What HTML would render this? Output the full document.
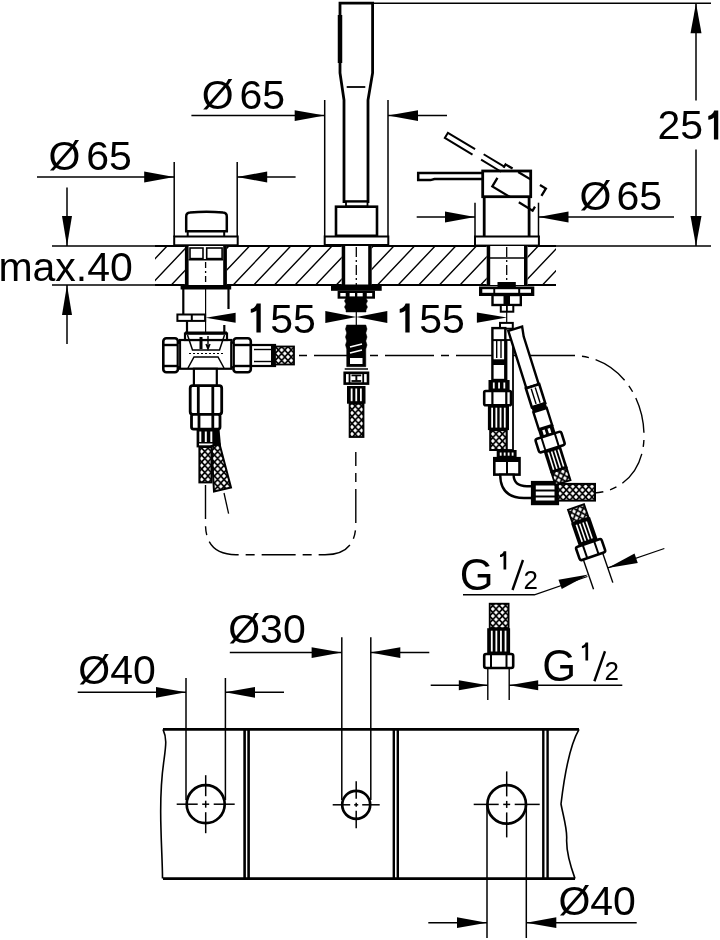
<!DOCTYPE html>
<html><head><meta charset="utf-8"><style>
html,body{margin:0;padding:0;background:#fff;}
svg{display:block;will-change:transform;}
text{font-family:"Liberation Sans",sans-serif;fill:#000;stroke:none;}
</style></head><body>
<svg width="720" height="940" viewBox="0 0 720 940" stroke="#000" fill="none" stroke-linecap="butt">
<rect width="720" height="940" fill="#fff" stroke="none"/>
<defs>
<pattern id="braid" width="6.4" height="7" patternUnits="userSpaceOnUse" stroke="none">
<rect width="6.4" height="7" fill="#000"/>
<polygon points="3.2,1.25 5.25,3.5 3.2,5.75 1.1500000000000004,3.5" fill="#fff"/>
<polygon points="0,-2.25 2.05,0 0,2.25 -2.05,0" fill="#fff"/>
<polygon points="6.4,-2.25 8.45,0 6.4,2.25 4.3500000000000005,0" fill="#fff"/>
<polygon points="0,4.75 2.05,7 0,9.25 -2.05,7" fill="#fff"/>
<polygon points="6.4,4.75 8.45,7 6.4,9.25 4.3500000000000005,7" fill="#fff"/>
</pattern>
<clipPath id="deckclip"><rect x="155" y="246" width="401" height="39"/></clipPath>
</defs>
<line x1="373.00" y1="3.20" x2="711.00" y2="3.20" stroke-width="1.5" />
<line x1="52.00" y1="246.00" x2="711.00" y2="246.00" stroke-width="1.5" />
<line x1="696.00" y1="3.20" x2="696.00" y2="100.50" stroke-width="1.5" />
<line x1="696.00" y1="149.40" x2="696.00" y2="246.00" stroke-width="1.5" />
<polygon points="696.00,3.20 701.50,33.20 690.50,33.20" fill="#000" stroke="none"/>
<polygon points="696.00,246.00 690.50,216.00 701.50,216.00" fill="#000" stroke="none"/>
<text x="657.5" y="139.4" font-size="41" >25</text>
<path d="M708.30,116.07 C711.18,115.50 713.34,113.48 714.20,110.60 L718.24,110.60 L718.24,139.40 L713.92,139.40 L713.92,117.51 C712.19,118.95 711.18,119.53 708.30,119.82 Z" fill="#000" stroke="none"/>
<line x1="191.40" y1="115.60" x2="324.70" y2="115.60" stroke-width="1.5" />
<polygon points="324.70,115.60 294.70,121.00 294.70,110.20" fill="#000" stroke="none"/>
<line x1="388.00" y1="115.60" x2="447.00" y2="115.60" stroke-width="1.5" />
<polygon points="388.00,115.60 418.00,110.20 418.00,121.00" fill="#000" stroke="none"/>
<line x1="324.70" y1="100.00" x2="324.70" y2="236.00" stroke-width="1.5" />
<line x1="388.00" y1="100.00" x2="388.00" y2="236.00" stroke-width="1.5" />
<text x="201.7" y="109.4" font-size="41" >Ø</text>
<text x="239.5" y="109.4" font-size="41" >65</text>
<line x1="37.00" y1="177.00" x2="174.20" y2="177.00" stroke-width="1.5" />
<polygon points="174.20,177.00 144.20,182.40 144.20,171.60" fill="#000" stroke="none"/>
<line x1="237.20" y1="177.00" x2="295.60" y2="177.00" stroke-width="1.5" />
<polygon points="237.20,177.00 267.20,171.60 267.20,182.40" fill="#000" stroke="none"/>
<line x1="174.20" y1="162.00" x2="174.20" y2="237.00" stroke-width="1.5" />
<line x1="237.20" y1="162.00" x2="237.20" y2="237.00" stroke-width="1.5" />
<text x="48.4" y="169.5" font-size="41" >Ø</text>
<text x="86.2" y="169.5" font-size="41" >65</text>
<line x1="416.70" y1="217.00" x2="475.00" y2="217.00" stroke-width="1.5" />
<polygon points="475.00,217.00 445.00,222.40 445.00,211.60" fill="#000" stroke="none"/>
<line x1="538.50" y1="217.00" x2="674.00" y2="217.00" stroke-width="1.5" />
<polygon points="538.50,217.00 568.50,211.60 568.50,222.40" fill="#000" stroke="none"/>
<line x1="475.00" y1="202.70" x2="475.00" y2="237.00" stroke-width="1.5" />
<line x1="538.50" y1="202.70" x2="538.50" y2="237.00" stroke-width="1.5" />
<text x="579.4" y="209.5" font-size="41" >Ø</text>
<text x="616.5" y="209.5" font-size="41" >65</text>
<line x1="52.00" y1="285.00" x2="556.00" y2="285.00" stroke-width="1.5" />
<line x1="67.00" y1="187.50" x2="67.00" y2="246.00" stroke-width="1.5" />
<polygon points="67.00,246.00 62.00,216.00 72.00,216.00" fill="#000" stroke="none"/>
<line x1="67.00" y1="285.00" x2="67.00" y2="344.00" stroke-width="1.5" />
<polygon points="67.00,285.00 72.00,315.00 62.00,315.00" fill="#000" stroke="none"/>
<text x="-1.6" y="281" font-size="41" >max.40</text>
<path d="M-34.88,285 L2.12,246 M-14.26,285 L22.74,246 M6.36,285 L43.36,246 M26.98,285 L63.98,246 M47.60,285 L84.60,246 M68.22,285 L105.22,246 M88.84,285 L125.84,246 M109.46,285 L146.46,246 M130.08,285 L167.08,246 M150.70,285 L187.70,246 M171.32,285 L208.32,246 M191.94,285 L228.94,246 M212.56,285 L249.56,246 M233.18,285 L270.18,246 M253.80,285 L290.80,246 M274.42,285 L311.42,246 M295.04,285 L332.04,246 M315.66,285 L352.66,246 M336.28,285 L373.28,246 M356.90,285 L393.90,246 M377.52,285 L414.52,246 M398.14,285 L435.14,246 M418.76,285 L455.76,246 M439.38,285 L476.38,246 M460.00,285 L497.00,246 M480.62,285 L517.62,246 M501.24,285 L538.24,246 M521.86,285 L558.86,246 M542.48,285 L579.48,246 M563.10,285 L600.10,246 M583.72,285 L620.72,246 M604.34,285 L641.34,246" stroke-width="1.4" clip-path="url(#deckclip)"/>
<line x1="155.00" y1="246.00" x2="556.00" y2="246.00" stroke-width="2.2" />
<line x1="155.00" y1="285.00" x2="556.00" y2="285.00" stroke-width="2.2" />
<path d="M294,355.5 L572,355.5" stroke-width="1.4" fill="none" stroke-dasharray="49 7 8 7" stroke-dashoffset="-20"/>
<path d="M572,355.5 C614,355.5 644,392 644,436 C644,472 620,492 594,493" stroke-width="1.4" fill="none" stroke-dasharray="36 7 7 7" stroke-dashoffset="-24"/>
<path d="M205.5,485 L205.5,524 Q205.5,554.7 236,554.7 L325,554.7 Q355.8,554.7 355.8,524 L355.8,452" stroke-width="1.4" fill="none" stroke-dasharray="34 7 9 7"/>
<line x1="224.00" y1="493.00" x2="228.60" y2="513.60" stroke-width="1.3" />
<path d="M186.2,231.2 L186.2,216.5 Q186.2,212.8 190,212.6 Q206.5,210.8 223,212.6 Q226.8,212.8 226.8,216.5 L226.8,231.2 Z" stroke-width="2.5" fill="#fff" />
<line x1="187.70" y1="231.80" x2="187.70" y2="236.00" stroke-width="2" />
<line x1="224.20" y1="231.80" x2="224.20" y2="236.00" stroke-width="2" />
<rect x="174.20" y="236.50" width="63.50" height="8.80" stroke-width="2" fill="#fff" rx="0" />
<rect x="184.90" y="246.00" width="42.00" height="39.00" fill="#fff" stroke="none"/>
<rect x="184.90" y="246.00" width="3.70" height="39.00" fill="#000" stroke="none"/>
<rect x="223.20" y="246.00" width="3.70" height="39.00" fill="#000" stroke="none"/>
<rect x="190.00" y="248.00" width="13.00" height="10.60" stroke-width="1.6" fill="#fff" rx="0" />
<rect x="206.70" y="248.00" width="15.40" height="10.60" stroke-width="1.6" fill="#fff" rx="0" />
<line x1="188.60" y1="259.70" x2="223.20" y2="259.70" stroke-width="1.6" />
<line x1="205.60" y1="262.00" x2="205.60" y2="285.00" stroke-width="1.3" stroke-dasharray="6 3 2 3"/>
<rect x="180.60" y="285.00" width="50.60" height="4.50" fill="#000" stroke="none"/>
<line x1="183.30" y1="289.00" x2="183.30" y2="314.50" stroke-width="2.2" />
<line x1="228.50" y1="289.00" x2="228.50" y2="309.00" stroke-width="2.2" />
<line x1="205.60" y1="289.00" x2="205.60" y2="332.00" stroke-width="1.2" />
<rect x="177.40" y="314.50" width="27.70" height="6.40" stroke-width="2" fill="#fff" rx="0" />
<rect x="190.80" y="315.00" width="2.00" height="5.50" fill="#000" stroke="none"/>
<polygon points="205.60,317.70 235.60,312.70 235.60,322.70" fill="#000" stroke="none"/>
<path d="M250.80,309.07 C253.68,308.50 255.84,306.48 256.70,303.60 L260.74,303.60 L260.74,332.40 L256.42,332.40 L256.42,310.51 C254.69,311.95 253.68,312.53 250.80,312.82 Z" fill="#000" stroke="none"/>
<text x="270.3" y="332.5" font-size="41" >55</text>
<path d="M399.70,309.07 C402.58,308.50 404.74,306.48 405.60,303.60 L409.64,303.60 L409.64,332.40 L405.32,332.40 L405.32,310.51 C403.59,311.95 402.58,312.53 399.70,312.82 Z" fill="#000" stroke="none"/>
<text x="419.2" y="332.5" font-size="41" >55</text>
<line x1="187.00" y1="320.90" x2="187.00" y2="332.50" stroke-width="2.2" />
<line x1="224.30" y1="325.00" x2="224.30" y2="332.50" stroke-width="2.2" />
<rect x="180.00" y="340.00" width="51.40" height="28.75" stroke-width="2.2" fill="#fff" rx="0" />
<rect x="185.00" y="333.50" width="42.00" height="6.50" stroke-width="2.2" fill="#fff" rx="0" />
<line x1="185.00" y1="333.00" x2="227.00" y2="333.00" stroke-width="2.8" />
<path d="M187.5,335 L192.5,350 L219.5,350 L224.5,335" stroke-width="1.5" fill="none" />
<path d="M188,368 L194,357 L218,357 L224,368" stroke-width="1.5" fill="none" />
<line x1="189.00" y1="353.50" x2="223.00" y2="353.50" stroke-width="1.2" stroke-dasharray="2 2"/>
<rect x="199.50" y="337.00" width="3.00" height="12.00" fill="#000" stroke="none"/>
<path d="M208,336 L208,349 M206,344 L208,349 L210,344" stroke-width="1.4" fill="none" />
<rect x="163.30" y="338.20" width="14.60" height="34.00" stroke-width="2.6" fill="#fff" rx="3" />
<line x1="164.00" y1="345.00" x2="177.00" y2="345.00" stroke-width="2.4" />
<line x1="164.00" y1="366.00" x2="177.00" y2="366.00" stroke-width="2.4" />
<rect x="177.90" y="343.00" width="2.10" height="24.00" stroke-width="1.8" fill="#fff" rx="0" />
<rect x="233.50" y="338.20" width="17.30" height="34.00" stroke-width="2.6" fill="#fff" rx="3" />
<line x1="234.00" y1="345.00" x2="250.00" y2="345.00" stroke-width="2.4" />
<line x1="234.00" y1="366.00" x2="250.00" y2="366.00" stroke-width="2.4" />
<rect x="231.40" y="343.00" width="2.10" height="24.00" stroke-width="1.8" fill="#fff" rx="0" />
<rect x="251.00" y="345.00" width="24.00" height="21.00" stroke-width="2.2" fill="#fff" rx="0" />
<line x1="254.00" y1="349.50" x2="272.00" y2="349.50" stroke-width="1.4" />
<line x1="254.00" y1="361.50" x2="272.00" y2="361.50" stroke-width="1.4" />
<rect x="271.00" y="345.00" width="4.00" height="21.00" fill="#000" stroke="none"/>
<rect x="275.00" y="346.50" width="19.00" height="18.00" fill="url(#braid)" stroke-width="1.8"/>
<rect x="193.90" y="368.75" width="22.90" height="17.25" stroke-width="2.2" fill="#fff" rx="0" />
<rect x="190.20" y="385.70" width="31.50" height="28.60" stroke-width="2.8" fill="#fff" rx="2.5" />
<line x1="198.30" y1="386.00" x2="198.30" y2="414.00" stroke-width="2.8" />
<line x1="212.80" y1="386.00" x2="212.80" y2="414.00" stroke-width="2.8" />
<rect x="191.50" y="414.30" width="28.50" height="14.80" stroke-width="2.8" fill="#fff" rx="2" />
<line x1="199.00" y1="414.30" x2="199.00" y2="429.00" stroke-width="2.8" />
<line x1="212.80" y1="414.30" x2="212.80" y2="429.00" stroke-width="2.8" />
<rect x="196.60" y="429.00" width="18.40" height="18.40" fill="#000" stroke="none"/>
<polygon points="212,429 219.5,429 221,446 212,447.4" fill="#000" stroke="none"/>
<rect x="199.30" y="431.50" width="2.00" height="10.50" fill="#fff" stroke="none"/>
<rect x="204.80" y="431.50" width="2.00" height="10.50" fill="#fff" stroke="none"/>
<rect x="210.30" y="431.50" width="2.00" height="10.50" fill="#fff" stroke="none"/>
<rect x="199.00" y="443.50" width="13.50" height="1.80" fill="#fff" stroke="none"/>
<polygon points="211.5,446 219.5,444 231,487.5 214,491.5" fill="url(#braid)" stroke-width="2"/>
<rect x="199.40" y="447.00" width="12.10" height="35.40" fill="url(#braid)" stroke-width="2"/>
<path d="M340,3.1 L372.6,3.1 L372.6,73 L368,100 L368,201.7 L344,201.7 L344,100 L340,73 Z" stroke-width="2.8" fill="#fff" />
<line x1="340.00" y1="15.00" x2="340.00" y2="63.00" stroke-width="4.5" />
<line x1="346.70" y1="87.00" x2="365.30" y2="87.00" stroke-width="1.8" />
<rect x="346.00" y="201.70" width="21.50" height="4.80" stroke-width="1.8" fill="#fff" rx="0" />
<rect x="336.00" y="206.70" width="41.00" height="29.10" stroke-width="2.6" fill="#fff" rx="0" />
<rect x="324.70" y="236.50" width="63.60" height="8.50" stroke-width="2" fill="#fff" rx="0" />
<rect x="341.70" y="246.00" width="30.00" height="39.00" fill="#fff" stroke="none"/>
<rect x="341.70" y="246.00" width="3.50" height="39.00" fill="#000" stroke="none"/>
<rect x="368.20" y="246.00" width="3.50" height="39.00" fill="#000" stroke="none"/>
<line x1="356.30" y1="247.00" x2="356.30" y2="285.00" stroke-width="1.3" stroke-dasharray="10 3 2 3"/>
<rect x="331.00" y="284.50" width="50.70" height="6.30" fill="#000" stroke="none"/>
<rect x="337.60" y="290.70" width="37.40" height="8.00" fill="#000" stroke="none"/>
<rect x="340.30" y="293.00" width="5.40" height="3.40" fill="#fff" stroke="none"/>
<rect x="349.60" y="293.00" width="5.40" height="3.40" fill="#fff" stroke="none"/>
<rect x="357.30" y="293.00" width="5.40" height="3.40" fill="#fff" stroke="none"/>
<rect x="366.80" y="293.00" width="5.40" height="3.40" fill="#fff" stroke="none"/>
<path d="M346,298 L366,298 L367.5,301 L366,304 L367.5,307 L366,310 L366,312 L346,312 L346,310 L344.5,307 L346,304 L344.5,301 Z" stroke-width="0.5" fill="#000" />
<line x1="356.30" y1="298.00" x2="356.30" y2="326.00" stroke-width="1.2" />
<polygon points="356.30,317.00 325.30,323.00 325.30,311.00" fill="#000" stroke="none"/>
<polygon points="356.30,317.00 387.30,311.00 387.30,323.00" fill="#000" stroke="none"/>
<path d="M346.7,325 L365.8,325 L367,329 L365.8,333 L367,337 L365.8,341 L367,345 L365.8,349 L365.8,366.7 L346.7,366.7 L346.7,349 L345.5,345 L346.7,341 L345.5,337 L346.7,333 L345.5,329 Z" stroke-width="0.5" fill="#000" />
<path d="M350,347 L362,344 M350,353 L362,350" stroke-width="1.6" fill="none" stroke="#fff"/>
<rect x="350.00" y="358.00" width="12.50" height="6.00" fill="#fff" stroke="none"/>
<rect x="344.70" y="372.80" width="23.30" height="10.80" stroke-width="2.6" fill="#fff" rx="0" />
<line x1="349.50" y1="373.00" x2="349.50" y2="383.50" stroke-width="1.8" />
<line x1="363.20" y1="373.00" x2="363.20" y2="383.50" stroke-width="1.8" />
<rect x="351.50" y="374.50" width="9.70" height="1.80" fill="#000" stroke="none"/>
<rect x="351.50" y="380.10" width="9.70" height="1.80" fill="#000" stroke="none"/>
<rect x="355.40" y="376.00" width="1.90" height="4.50" fill="#000" stroke="none"/>
<line x1="344.70" y1="369.00" x2="368.00" y2="369.00" stroke-width="1.5" />
<rect x="347.00" y="386.00" width="18.50" height="17.70" fill="#000" stroke="none"/>
<rect x="350.73" y="388.50" width="1.80" height="12.70" fill="#fff" stroke="none"/>
<rect x="355.35" y="388.50" width="1.80" height="12.70" fill="#fff" stroke="none"/>
<rect x="359.98" y="388.50" width="1.80" height="12.70" fill="#fff" stroke="none"/>
<rect x="349.60" y="403.70" width="13.90" height="33.30" fill="url(#braid)" stroke-width="1.8"/>
<g transform="translate(519.1,187.5) rotate(31) translate(-506.2,-183.85)" fill="none"><path d="M482.7,173.6 L417,173.6 L417,179.6 L482.7,179.6" stroke-width="2" stroke-dasharray="24 10 70 10 24 10"/><rect x="482.7" y="171" width="47" height="25.7" stroke-width="2.3" stroke-dasharray="8.2 6.5 15.4 10 15.5 12.5 20.7 10.3 30.5 11.9 4"/></g>
<path d="M483,173.1 L418.2,173.1 L418.2,180.1 L430.5,180.1 L434.5,179 L483,179" stroke-width="2.5" fill="#fff" />
<rect x="482.70" y="171.00" width="48.00" height="25.70" stroke-width="2.8" fill="none" rx="0" />
<line x1="484.20" y1="197.00" x2="484.20" y2="236.00" stroke-width="2.8" />
<line x1="529.10" y1="197.00" x2="529.10" y2="236.00" stroke-width="2.8" />
<rect x="475.00" y="236.50" width="63.90" height="9.10" stroke-width="2" fill="#fff" rx="0" />
<rect x="486.70" y="246.00" width="40.80" height="39.00" fill="#fff" stroke="none"/>
<rect x="486.70" y="246.00" width="3.50" height="39.00" fill="#000" stroke="none"/>
<rect x="524.00" y="246.00" width="3.50" height="39.00" fill="#000" stroke="none"/>
<line x1="490.00" y1="258.00" x2="524.00" y2="258.00" stroke-width="1.6" />
<line x1="506.70" y1="247.00" x2="506.70" y2="285.00" stroke-width="1.3" stroke-dasharray="10 3 2 3"/>
<rect x="497.50" y="282.00" width="18.30" height="5.00" fill="#000" stroke="none"/>
<rect x="479.00" y="286.50" width="55.30" height="9.50" fill="#000" stroke="none"/>
<rect x="482.30" y="289.20" width="11.00" height="3.60" fill="#fff" stroke="none"/>
<rect x="495.20" y="289.20" width="23.00" height="3.60" fill="#fff" stroke="none"/>
<rect x="520.20" y="289.20" width="10.80" height="3.60" fill="#fff" stroke="none"/>
<rect x="492.50" y="295.00" width="28.30" height="10.00" stroke-width="2.4" fill="#fff" rx="0" />
<rect x="503.50" y="295.50" width="6.50" height="9.00" fill="#000" stroke="none"/>
<rect x="500.80" y="305.00" width="12.50" height="6.70" stroke-width="2" fill="#fff" rx="0" />
<line x1="506.90" y1="305.00" x2="506.90" y2="311.70" stroke-width="1.8" />
<line x1="506.70" y1="311.00" x2="506.70" y2="323.00" stroke-width="1.2" />
<polygon points="506.90,317.60 476.90,322.80 476.90,312.40" fill="#000" stroke="none"/>
<rect x="500.00" y="322.90" width="12.80" height="5.80" stroke-width="2" fill="#fff" rx="0" />
<rect x="506.50" y="340.00" width="6.50" height="110.00" stroke-width="1.8" fill="#fff" rx="0" />
<rect x="492.40" y="328.10" width="12.90" height="51.90" stroke-width="2.4" fill="#fff" rx="0" />
<line x1="496.70" y1="341.00" x2="496.70" y2="358.00" stroke-width="1.4" />
<line x1="501.00" y1="341.00" x2="501.00" y2="358.00" stroke-width="1.4" />
<line x1="492.40" y1="340.10" x2="505.30" y2="340.10" stroke-width="2" />
<rect x="492.40" y="359.30" width="12.90" height="5.70" fill="#000" stroke="none"/>
<rect x="488.50" y="380.00" width="21.10" height="11.00" fill="#000" stroke="none"/>
<rect x="492.88" y="382.50" width="1.80" height="6.00" fill="#fff" stroke="none"/>
<rect x="498.15" y="382.50" width="1.80" height="6.00" fill="#fff" stroke="none"/>
<rect x="503.43" y="382.50" width="1.80" height="6.00" fill="#fff" stroke="none"/>
<rect x="484.20" y="391.00" width="26.80" height="14.20" stroke-width="2.6" fill="#fff" rx="1.5" />
<line x1="492.40" y1="391.00" x2="492.40" y2="405.20" stroke-width="2.2" />
<line x1="506.30" y1="391.00" x2="506.30" y2="405.20" stroke-width="2.2" />
<rect x="487.90" y="405.20" width="21.10" height="24.90" fill="#000" stroke="none"/>
<rect x="491.22" y="407.70" width="1.80" height="19.90" fill="#fff" stroke="none"/>
<rect x="495.44" y="407.70" width="1.80" height="19.90" fill="#fff" stroke="none"/>
<rect x="499.66" y="407.70" width="1.80" height="19.90" fill="#fff" stroke="none"/>
<rect x="503.88" y="407.70" width="1.80" height="19.90" fill="#fff" stroke="none"/>
<rect x="490.20" y="430.10" width="16.40" height="19.90" fill="url(#braid)" stroke-width="2"/>
<rect x="496.70" y="450.00" width="19.90" height="8.20" fill="#000" stroke="none"/>
<rect x="499.78" y="452.50" width="1.80" height="3.20" fill="#fff" stroke="none"/>
<rect x="503.76" y="452.50" width="1.80" height="3.20" fill="#fff" stroke="none"/>
<rect x="507.74" y="452.50" width="1.80" height="3.20" fill="#fff" stroke="none"/>
<rect x="511.72" y="452.50" width="1.80" height="3.20" fill="#fff" stroke="none"/>
<rect x="494.30" y="458.20" width="25.20" height="16.40" stroke-width="2.6" fill="#fff" rx="0" />
<rect x="494.30" y="458.20" width="25.20" height="3.80" fill="#000" stroke="none"/>
<line x1="507.00" y1="462.00" x2="507.00" y2="474.60" stroke-width="2" />
<path d="M500.2,474.6 L500.2,474.6 Q500.2,498 524,498 L533,498 L533,486.3 L527,486.3 Q513.6,486.3 513.6,474.6 Z" stroke-width="2.4" fill="#fff" />
<rect x="532.20" y="482.20" width="25.60" height="21.70" stroke-width="2.6" fill="#000" rx="0" />
<rect x="535.80" y="485.50" width="18.70" height="4.00" fill="#fff" stroke="none"/>
<rect x="535.80" y="491.50" width="18.70" height="4.00" fill="#fff" stroke="none"/>
<rect x="535.80" y="497.50" width="18.70" height="3.00" fill="#fff" stroke="none"/>
<rect x="557.80" y="483.90" width="37.20" height="16.70" fill="url(#braid)" stroke-width="2"/>
<g transform="translate(514.5,329) rotate(-17.5)">
<path d="M-6.5,0 L-6.5,60 L6.5,60 L6.5,10 L8,0 Z" fill="#fff" stroke-width="2.4"/>
<rect x="-7" y="60" width="14" height="20" fill="#fff" stroke-width="2.6"/>
<line x1="-2" y1="62" x2="-2" y2="78" stroke-width="1.4"/><line x1="2.2" y1="62" x2="2.2" y2="78" stroke-width="1.4"/>
<rect x="-7.5" y="79" width="15" height="6" fill="#000" stroke="none"/>
<rect x="-7" y="85" width="14" height="18" fill="#fff" stroke-width="2.4"/>
<rect x="-8" y="103" width="16" height="9" fill="#000" stroke="none"/>
<rect x="-4" y="105" width="2.5" height="5" fill="#fff" stroke="none"/><rect x="1.5" y="105" width="2.5" height="5" fill="#fff" stroke="none"/>
<rect x="-13.5" y="111.5" width="27" height="14" rx="2" fill="#fff" stroke-width="2.6"/>
<line x1="-7" y1="111.5" x2="-7" y2="125.5" stroke-width="2"/><line x1="7" y1="111.5" x2="7" y2="125.5" stroke-width="2"/>
<rect x="-9" y="125.5" width="18" height="23" fill="#000" stroke="none"/>
<rect x="-5.8" y="128" width="1.6" height="18" fill="#fff" stroke="none"/>
<rect x="-2.3" y="128" width="1.6" height="18" fill="#fff" stroke="none"/>
<rect x="1.2" y="128" width="1.6" height="18" fill="#fff" stroke="none"/>
<rect x="4.7" y="128" width="1.6" height="18" fill="#fff" stroke="none"/>
<rect x="-8" y="148" width="16" height="13" fill="url(#braid)" stroke-width="1.8"/>
</g>
<g transform="translate(576,507) rotate(-19)">
<rect x="-8.5" y="0" width="17" height="14" fill="url(#braid)" stroke-width="1.8"/>
<rect x="-10" y="14" width="20" height="24" fill="#000" stroke="none"/>
<rect x="-6.3" y="17" width="1.6" height="18" fill="#fff" stroke="none"/>
<rect x="-2.8" y="17" width="1.6" height="18" fill="#fff" stroke="none"/>
<rect x="0.7" y="17" width="1.6" height="18" fill="#fff" stroke="none"/>
<rect x="4.2" y="17" width="1.6" height="18" fill="#fff" stroke="none"/>
<rect x="-13.5" y="38" width="27" height="14" rx="2" fill="#fff" stroke-width="2.6"/>
<line x1="-6" y1="38" x2="-6" y2="52" stroke-width="2"/><line x1="6" y1="38" x2="6" y2="52" stroke-width="2"/>
<line x1="-10.2" y1="52" x2="-10.2" y2="83.5" stroke-width="1.4"/><line x1="10.2" y1="52" x2="10.2" y2="83.5" stroke-width="1.4"/>
<polygon points="-10.2,68 -40.2,63 -40.2,73" fill="#000" stroke="none"/>
<polygon points="10.2,68 40.2,63 40.2,73" fill="#000" stroke="none"/>
<line x1="10.2" y1="68" x2="70" y2="68" stroke-width="1.3"/>
</g>
<path d="M463,594.75 L534.4,594.75 L587.4,576.5" stroke-width="1.3" fill="none" />
<text x="459.8" y="589.6" font-size="43.5" >G</text>
<path d="M500.00,554.74 C501.81,554.38 503.17,553.11 503.71,551.30 L506.24,551.30 L506.24,569.40 L503.53,569.40 L503.53,555.64 C502.44,556.55 501.81,556.91 500.00,557.09 Z" fill="#000" stroke="none"/>
<line x1="512.50" y1="590.00" x2="523.00" y2="560.00" stroke-width="2.4" />
<text x="523.5" y="589.4" font-size="26" >2</text>
<rect x="489.70" y="603.70" width="18.90" height="24.50" fill="url(#braid)" stroke-width="1.8"/>
<rect x="487.20" y="628.20" width="22.90" height="25.80" fill="#000" stroke="none"/>
<rect x="490.88" y="630.70" width="1.80" height="20.80" fill="#fff" stroke="none"/>
<rect x="495.46" y="630.70" width="1.80" height="20.80" fill="#fff" stroke="none"/>
<rect x="500.04" y="630.70" width="1.80" height="20.80" fill="#fff" stroke="none"/>
<rect x="504.62" y="630.70" width="1.80" height="20.80" fill="#fff" stroke="none"/>
<rect x="484.20" y="654.00" width="29.00" height="14.00" stroke-width="2.6" fill="#fff" rx="2" />
<line x1="491.00" y1="654.00" x2="491.00" y2="668.00" stroke-width="2" />
<line x1="506.50" y1="654.00" x2="506.50" y2="668.00" stroke-width="2" />
<line x1="487.80" y1="668.00" x2="487.80" y2="700.00" stroke-width="1.4" />
<line x1="509.20" y1="668.00" x2="509.20" y2="700.00" stroke-width="1.4" />
<line x1="430.70" y1="685.30" x2="487.80" y2="685.30" stroke-width="1.5" />
<polygon points="487.80,685.30 458.80,690.30 458.80,680.30" fill="#000" stroke="none"/>
<line x1="509.20" y1="685.30" x2="622.30" y2="685.30" stroke-width="1.5" />
<polygon points="509.20,685.30 538.20,680.30 538.20,690.30" fill="#000" stroke="none"/>
<text x="542.3" y="680.8" font-size="43.5" >G</text>
<path d="M581.90,645.94 C583.71,645.58 585.07,644.31 585.61,642.50 L588.14,642.50 L588.14,660.60 L585.43,660.60 L585.43,646.84 C584.34,647.75 583.71,648.11 581.90,648.29 Z" fill="#000" stroke="none"/>
<line x1="594.40" y1="681.25" x2="605.00" y2="651.25" stroke-width="2.4" />
<text x="604.5" y="680" font-size="26" >2</text>
<line x1="77.70" y1="692.30" x2="186.00" y2="692.30" stroke-width="1.5" />
<polygon points="186.00,692.30 156.00,697.70 156.00,686.90" fill="#000" stroke="none"/>
<line x1="225.00" y1="692.30" x2="284.00" y2="692.30" stroke-width="1.5" />
<polygon points="225.00,692.30 255.00,686.90 255.00,697.70" fill="#000" stroke="none"/>
<line x1="186.00" y1="678.00" x2="186.00" y2="800.00" stroke-width="1.5" />
<line x1="225.40" y1="678.00" x2="225.40" y2="800.00" stroke-width="1.5" />
<text x="78.3" y="684" font-size="41" >Ø40</text>
<line x1="229.80" y1="652.60" x2="341.60" y2="652.60" stroke-width="1.5" />
<polygon points="341.60,652.60 311.60,658.00 311.60,647.20" fill="#000" stroke="none"/>
<line x1="370.30" y1="652.60" x2="429.30" y2="652.60" stroke-width="1.5" />
<polygon points="370.30,652.60 400.30,647.20 400.30,658.00" fill="#000" stroke="none"/>
<line x1="341.80" y1="637.30" x2="341.80" y2="800.00" stroke-width="1.5" />
<line x1="370.80" y1="637.30" x2="370.80" y2="800.00" stroke-width="1.5" />
<text x="228.2" y="642.8" font-size="41" >Ø30</text>
<path d="M163,729.4 L579,729.4" stroke-width="2.6" fill="none" />
<path d="M163,878.6 L575,878.6" stroke-width="2.6" fill="none" />
<path d="M163,729.4 C167,738 166,745 164,760 C161,780 160,800 161,830 C161.5,850 162.5,865 162.5,878.6" stroke-width="1.6" fill="none" />
<path d="M579,729.4 C570,745 565,770 561,804 C563,815 567,828 566.7,838 C566,850 570,865 575,878.6" stroke-width="1.6" fill="none" />
<line x1="244.60" y1="729.40" x2="244.60" y2="878.60" stroke-width="2.6" />
<line x1="248.60" y1="729.40" x2="248.60" y2="878.60" stroke-width="2.6" />
<line x1="393.80" y1="729.40" x2="393.80" y2="878.60" stroke-width="2.4" />
<line x1="397.80" y1="729.40" x2="397.80" y2="878.60" stroke-width="2.4" />
<line x1="543.30" y1="729.40" x2="543.30" y2="878.60" stroke-width="2.4" />
<line x1="547.60" y1="729.40" x2="547.60" y2="878.60" stroke-width="2.4" />
<circle cx="205.7" cy="804.2" r="19" fill="none" stroke-width="2.7"/>
<line x1="176.70" y1="804.20" x2="197.70" y2="804.20" stroke-width="1.5" />
<line x1="205.70" y1="775.20" x2="205.70" y2="796.20" stroke-width="1.5" />
<line x1="202.20" y1="804.20" x2="209.20" y2="804.20" stroke-width="1.5" />
<line x1="205.70" y1="800.70" x2="205.70" y2="807.70" stroke-width="1.5" />
<line x1="213.70" y1="804.20" x2="234.70" y2="804.20" stroke-width="1.5" />
<line x1="205.70" y1="812.20" x2="205.70" y2="833.20" stroke-width="1.5" />
<circle cx="356.2" cy="804.8" r="14" fill="none" stroke-width="2.7"/>
<line x1="332.70" y1="804.80" x2="350.20" y2="804.80" stroke-width="1.5" />
<line x1="356.20" y1="781.30" x2="356.20" y2="798.80" stroke-width="1.5" />
<line x1="354.20" y1="804.80" x2="358.20" y2="804.80" stroke-width="1.5" />
<line x1="356.20" y1="802.80" x2="356.20" y2="806.80" stroke-width="1.5" />
<line x1="362.20" y1="804.80" x2="379.70" y2="804.80" stroke-width="1.5" />
<line x1="356.20" y1="810.80" x2="356.20" y2="828.30" stroke-width="1.5" />
<circle cx="506.7" cy="804.4" r="19.3" fill="none" stroke-width="2.7"/>
<line x1="473.70" y1="804.40" x2="498.70" y2="804.40" stroke-width="1.5" />
<line x1="506.70" y1="771.40" x2="506.70" y2="796.40" stroke-width="1.5" />
<line x1="503.20" y1="804.40" x2="510.20" y2="804.40" stroke-width="1.5" />
<line x1="506.70" y1="800.90" x2="506.70" y2="807.90" stroke-width="1.5" />
<line x1="514.70" y1="804.40" x2="539.70" y2="804.40" stroke-width="1.5" />
<line x1="506.70" y1="812.40" x2="506.70" y2="837.40" stroke-width="1.5" />
<line x1="487.00" y1="804.40" x2="487.00" y2="938.00" stroke-width="1.5" />
<line x1="526.30" y1="804.40" x2="526.30" y2="938.00" stroke-width="1.5" />
<line x1="428.30" y1="922.70" x2="487.00" y2="922.70" stroke-width="1.5" />
<polygon points="487.00,922.70 457.00,928.10 457.00,917.30" fill="#000" stroke="none"/>
<line x1="526.30" y1="922.70" x2="636.70" y2="922.70" stroke-width="1.5" />
<polygon points="526.30,922.70 556.30,917.30 556.30,928.10" fill="#000" stroke="none"/>
<text x="558.4" y="915" font-size="41" >Ø40</text>
</svg></body></html>
